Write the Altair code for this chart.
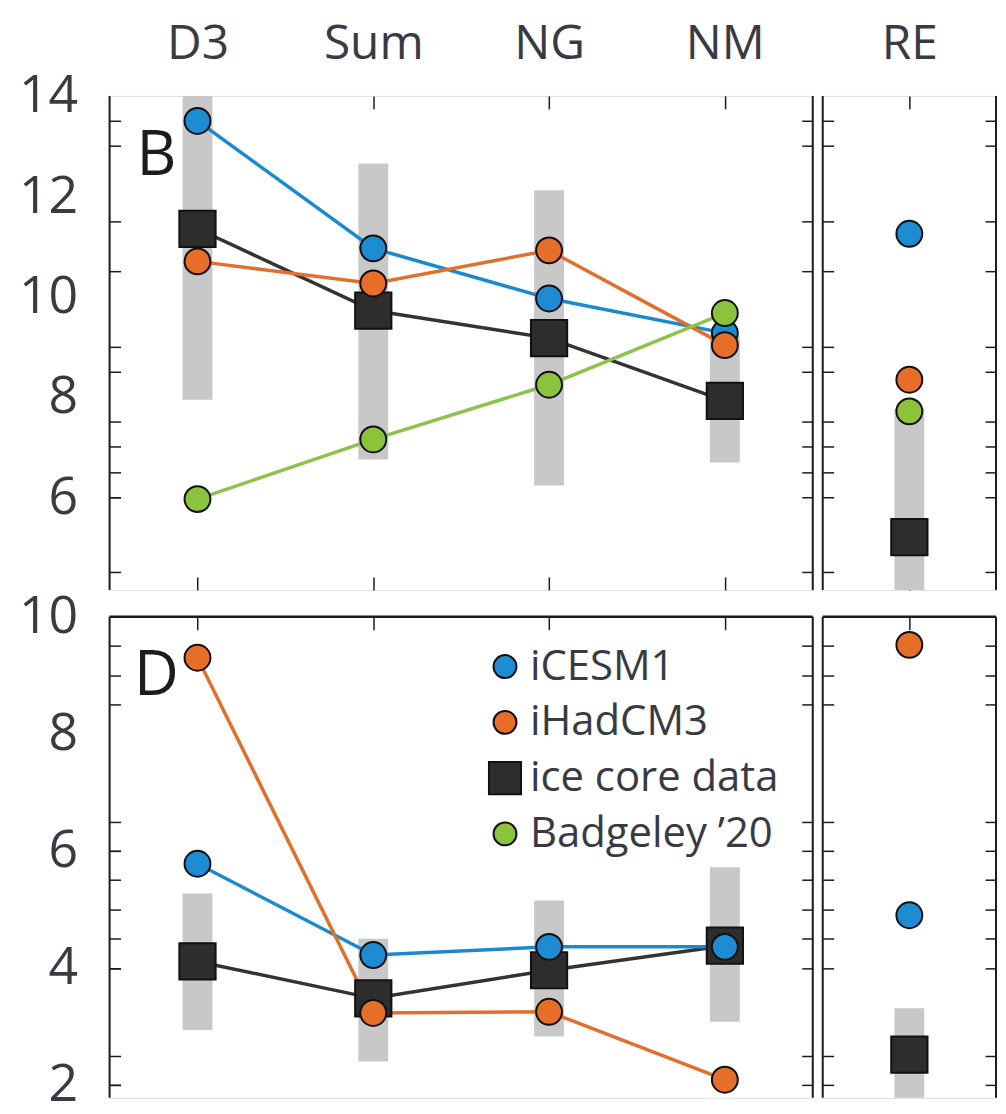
import altair as alt
import pandas as pd

# ---------------- data ----------------
sites = ["D3", "Sum", "NG", "NM"]
re_site = ["RE"]
series_names = ["iCESM1", "iHadCM3", "ice core data", "Badgeley \u201920"]
series_colors = ["#1e8cd2", "#e66e28", "#2d2d2d", "#8cc33c"]
line_colors = ["#1a8ad0", "#e2702c", "#333333", "#8cc34a"]

# panel B (main sites)
b_icesm1 = [13.50, 10.96, 9.96, 9.27]
b_ihadcm3 = [10.70, 10.26, 10.92, 9.03]
b_ice = [11.35, 9.72, 9.17, 7.92]
b_badgeley = [5.96, 7.15, 8.24, 9.67]
b_ice_lo = [7.94, 6.75, 6.23, 6.69]
b_ice_hi = [14.00, 12.65, 12.12, 9.20]
# panel B (RE)
b_re_icesm1 = [11.25]
b_re_ihadcm3 = [8.34]
b_re_ice = [5.20]
b_re_badgeley = [7.71]
b_re_lo = [4.10]
b_re_hi = [7.76]

# panel D (main sites)
d_icesm1 = [5.78, 4.22, 4.36, 4.36]
d_ihadcm3 = [9.30, 3.23, 3.25, 2.09]
d_ice = [4.11, 3.48, 3.96, 4.38]
d_ice_lo = [2.94, 2.40, 2.83, 3.08]
d_ice_hi = [5.27, 4.50, 5.15, 5.72]
# panel D (RE)
d_re_icesm1 = [4.90]
d_re_ihadcm3 = [9.52]
d_re_ice = [2.52]
d_re_lo = [1.69]
d_re_hi = [3.31]

# axis tick / label values
b_labels = [6, 8, 10, 12, 14]
b_ticks = [4.5, 6, 6.5, 7, 7.5, 8.5, 9, 10.5, 11.5, 13, 13.5]
d_labels = [2, 4, 6, 8, 10]
d_ticks = [2, 2.5, 4, 4.5, 5, 5.5, 6, 6.5, 8.5, 9, 9.5]
b_domain = [4.15, 14.0]
d_domain = [1.78, 10.0]

# ---------------- style ----------------
FONT = "Open Sans"
TXT = "#3a3a44"
INK = "#1c1c1c"
MAIN_W, RE_W = 706, 174
B_H, D_H = 496, 483
SQUARE = "M-1.4,-1.4H1.4V1.4H-1.4Z"
shape_range = ["circle", "circle", SQUARE, "circle"]


def long_frame(cats, values_by_series):
    rows = []
    order = ["ice core data", "iCESM1", "iHadCM3", "Badgeley \u201920"]
    for s in order:
        if s not in values_by_series:
            continue
        for i, (c, v) in enumerate(zip(cats, values_by_series[s])):
            rows.append({"site": c, "idx": i, "series": s, "value": v})
    return pd.DataFrame(rows)


def bar_frame(cats, lo, hi):
    return pd.DataFrame({"site": cats, "lo": lo, "hi": hi})


def y_label_axis(labels, ticks):
    tk = "[" + ",".join(str(v) for v in ticks) + "]"
    return alt.Axis(
        orient="left", values=labels, title=None, grid=False, domain=False,
        format="d",
        tickOpacity={"condition": {"test": f"indexof({tk}, datum.value) >= 0", "value": 1}, "value": 0},
        tickSize=11, offset=-11, tickColor=INK, tickWidth=1.5,
        labelFont=FONT, labelFontSize=52, labelColor=TXT, labelPadding=32,
        labelOverlap=False,
    )


def y_tick_axis(ticks, orient):
    return alt.Axis(
        orient=orient, values=ticks, title=None, grid=False, domain=False,
        labels=False, tickSize=11, offset=-11, tickColor=INK, tickWidth=1.5,
    )


def x_top(show_labels):
    return alt.Axis(
        orient="top", title=None, grid=False, domain=False, labels=show_labels,
        tickSize=13, offset=-13, tickColor=INK, tickWidth=1.5,
        labelFont=FONT, labelFontSize=48, labelColor=TXT, labelPadding=28,
        labelAngle=0,
    )


def x_bottom():
    return alt.Axis(
        orient="bottom", title=None, grid=False, domain=False, labels=False,
        tickSize=13, offset=-13, tickColor=INK, tickWidth=1.5,
    )


def frame_rules(w, h, top_line):
    layers = [
        alt.Chart().mark_rule(color=INK, strokeWidth=2).encode(
            x=alt.value(0), y=alt.value(0), y2=alt.value(h)),
        alt.Chart().mark_rule(color=INK, strokeWidth=2).encode(
            x=alt.value(w), y=alt.value(0), y2=alt.value(h)),
    ]
    if top_line:
        layers.append(alt.Chart().mark_rule(color=INK, strokeWidth=2.5).encode(
            x=alt.value(0), x2=alt.value(w), y=alt.value(0)))
    return layers


def panel(cats, vals, lo, hi, domain, labels, ticks, w, h, top_row,
          left_labels, with_lines, letter, legend):
    xs = alt.Scale(type="point", padding=0.5, domain=cats)
    ys = alt.Scale(domain=domain, nice=False, zero=False)
    cs = alt.Scale(domain=series_names, range=series_colors)
    ls = alt.Scale(domain=series_names, range=line_colors)
    ss = alt.Scale(domain=series_names, range=shape_range)
    df = long_frame(cats, vals)
    bars = alt.Chart(bar_frame(cats, lo, hi)).mark_bar(
        size=30, color="#c8c8c8", clip=True).encode(
        x=alt.X("site:N", scale=xs, sort=cats, axis=x_top(top_row)),
        y=alt.Y("lo:Q", scale=ys,
                axis=y_label_axis(labels, ticks) if left_labels else y_tick_axis(ticks, "left")),
        y2="hi:Q",
    )
    layers = [bars]
    if with_lines:
        lines = alt.Chart(df).mark_line(strokeWidth=3.5).encode(
            x=alt.X("site:N", scale=xs, sort=cats, axis=None),
            y=alt.Y("value:Q", scale=ys, axis=y_tick_axis(ticks, "left")),
            stroke=alt.Stroke("series:N", scale=ls, legend=None),
            detail="series:N",
            order=alt.Order("idx:Q"),
        )
        layers.append(lines)
    if legend:
        leg = alt.Legend(
            orient="none", legendX=376, legendY=29, title=None,
            labelFont=FONT, labelFontSize=42, labelColor=TXT, labelLimit=500,
            symbolSize=529, symbolStrokeWidth=2,
            symbolOpacity=1, rowPadding=14, labelOffset=4, padding=0,
        )
    else:
        leg = None
    pts = alt.Chart(df).mark_point(
        filled=True, size=676, stroke="#111111", strokeWidth=2, opacity=1).encode(
        x=alt.X("site:N", scale=xs, sort=cats,
                axis=x_bottom() if top_row else None),
        y=alt.Y("value:Q", scale=ys, axis=y_tick_axis(ticks, "right")),
        color=alt.Color("series:N", scale=cs, legend=leg),
        shape=alt.Shape("series:N", scale=ss, legend=leg),
    )
    layers.append(pts)
    layers += frame_rules(w, h, not top_row)
    if letter:
        layers.append(alt.Chart().mark_text(
            text=letter, font=FONT, fontSize=62, color=INK,
            align="center", baseline="middle").encode(
            x=alt.value(47), y=alt.value(60)))
    return alt.layer(*layers).resolve_axis(
        x="independent", y="independent").resolve_scale(
        stroke="independent").properties(width=w, height=h)


b_main = panel(sites, {"iCESM1": b_icesm1, "iHadCM3": b_ihadcm3,
                       "ice core data": b_ice, "Badgeley \u201920": b_badgeley},
               b_ice_lo, b_ice_hi, b_domain, b_labels, b_ticks, MAIN_W, B_H,
               True, True, True, "B", False)
b_re = panel(re_site, {"iCESM1": b_re_icesm1, "iHadCM3": b_re_ihadcm3,
                       "ice core data": b_re_ice, "Badgeley \u201920": b_re_badgeley},
             b_re_lo, b_re_hi, b_domain, b_labels, b_ticks, RE_W, B_H,
             True, False, False, None, False)
d_main = panel(sites, {"iCESM1": d_icesm1, "iHadCM3": d_ihadcm3, "ice core data": d_ice},
               d_ice_lo, d_ice_hi, d_domain, d_labels, d_ticks, MAIN_W, D_H,
               False, True, True, "D", True)
d_re = panel(re_site, {"iCESM1": d_re_icesm1, "iHadCM3": d_re_ihadcm3, "ice core data": d_re_ice},
             d_re_lo, d_re_hi, d_domain, d_labels, d_ticks, RE_W, D_H,
             False, False, False, None, False)

chart = alt.concat(
    b_main, b_re, d_main, d_re, columns=2,
    spacing={"row": 27, "column": 10}, bounds="flush",
).resolve_scale(
    x="independent", y="independent", color="independent", shape="independent",
    stroke="independent",
).properties(
    padding={"left": 10, "top": 9, "right": 0, "bottom": 0}
).configure_view(stroke=None).configure(background="white")

chart.save("out.html", embed_options={"renderer": "svg", "actions": False})
